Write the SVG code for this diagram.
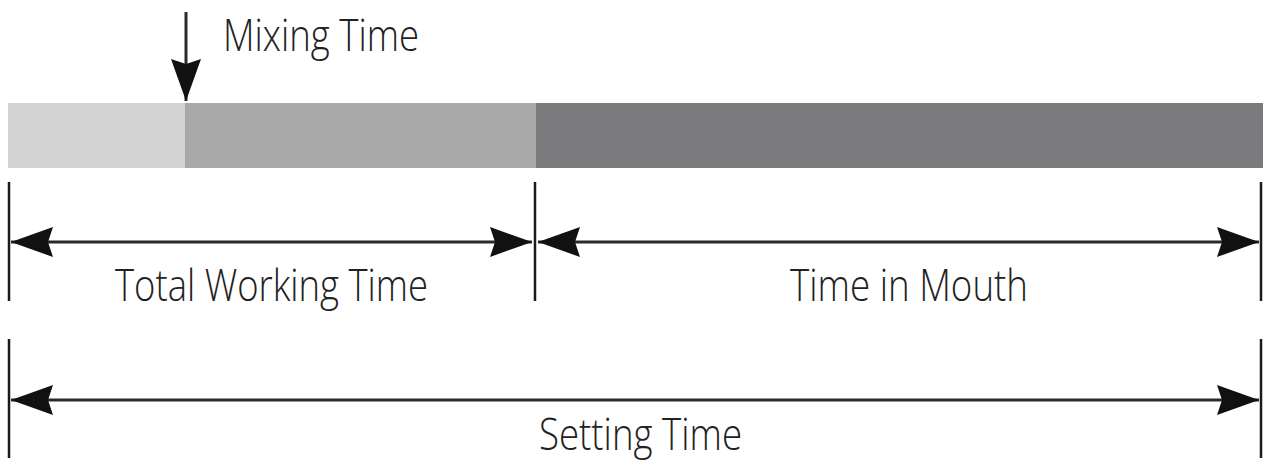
<svg xmlns="http://www.w3.org/2000/svg" width="1263" height="463" viewBox="0 0 1263 463">
  <style>
    .lbl { font-family: "Open Sans", "Noto Sans", sans-serif; font-weight: 300; font-size: 44px; fill: #222222; }
    .tick { stroke: #1a1a1a; stroke-width: 2.5; fill: none; }
    .dim { stroke: #2a2a2a; stroke-width: 3; fill: none; }
  </style>
  <defs>
    <marker id="ah" viewBox="-44 -17 46 34" refX="0" refY="0" markerWidth="46" markerHeight="34" markerUnits="userSpaceOnUse" orient="auto-start-reverse">
      <path d="M0,0 L-42,-15 L-37,0 L-42,15 Z" fill="#111"/>
    </marker>
  </defs>
  <rect width="1263" height="463" fill="#ffffff"/>
  <g id="bar">
    <rect x="8" y="103" width="177" height="65" fill="#d3d3d3"/>
    <rect x="185" y="103" width="352" height="65" fill="#a9a9aa"/>
    <rect x="536" y="103" width="727" height="65" fill="#7b7b7d"/>
  </g>
  <g id="mixing">
    <text class="lbl" x="223" y="51" textLength="196" lengthAdjust="spacingAndGlyphs">Mixing Time</text>
  </g>
  <g id="total-working">
    <text class="lbl" x="115" y="301" textLength="313" lengthAdjust="spacingAndGlyphs">Total Working Time</text>
  </g>
  <g id="mouth">
    <text class="lbl" x="790" y="301" textLength="238" lengthAdjust="spacingAndGlyphs">Time in Mouth</text>
  </g>
  <g id="setting">
    <text class="lbl" x="539" y="450" textLength="203" lengthAdjust="spacingAndGlyphs">Setting Time</text>
  </g>
  <g id="connectors">
    <line class="tick" x1="9" y1="182" x2="9" y2="301"/>
    <line class="tick" x1="535" y1="182" x2="535" y2="301"/>
    <line class="tick" x1="1261" y1="182" x2="1261" y2="301"/>
    <line class="tick" x1="9" y1="339" x2="9" y2="458"/>
    <line class="tick" x1="1261" y1="339" x2="1261" y2="458"/>
    <line class="dim" x1="11" y1="242" x2="532" y2="242" marker-start="url(#ah)" marker-end="url(#ah)"/>
    <line class="dim" x1="538" y1="242" x2="1259" y2="242" marker-start="url(#ah)" marker-end="url(#ah)"/>
    <line class="dim" x1="11" y1="400" x2="1259" y2="400" marker-start="url(#ah)" marker-end="url(#ah)"/>
    <line class="dim" x1="186" y1="12" x2="186" y2="101" marker-end="url(#ah)"/>
  </g>
</svg>
